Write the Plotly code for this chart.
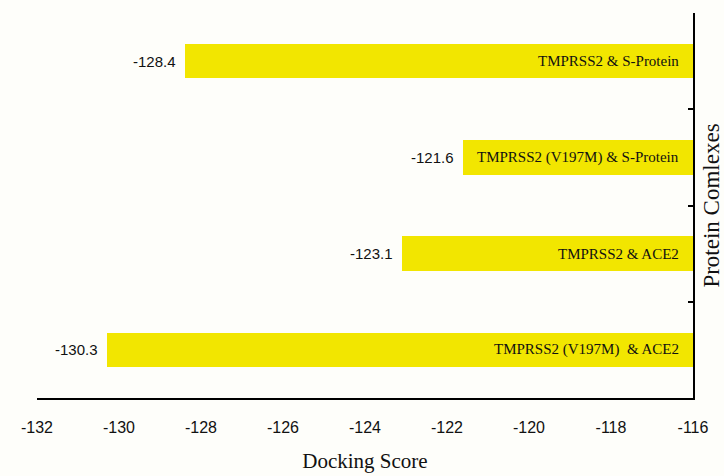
import plotly.graph_objects as go

# Docking scores for each protein complex (bottom to top)
complexes = [
    "TMPRSS2 (V197M)  & ACE2",
    "TMPRSS2 & ACE2",
    "TMPRSS2 (V197M) & S-Protein",
    "TMPRSS2 & S-Protein",
]
scores = [-130.3, -123.1, -121.6, -128.4]
x_ticks = [-132, -130, -128, -126, -124, -122, -120, -118, -116]

BAR_COLOR = "#F2E600"
BG = "#FEFEFA"
SERIF = "Liberation Serif, Times New Roman, serif"
SANS = "Liberation Sans, Arial, sans-serif"

pos = list(range(len(complexes)))

fig = go.Figure()
fig.add_trace(go.Bar(
    y=pos,
    x=scores,
    orientation="h",
    width=0.36,
    marker=dict(color=BAR_COLOR, line=dict(width=0)),
    hovertext=complexes,
    showlegend=False,
))

annotations = []
for p, name, s in zip(pos, complexes, scores):
    # complex name inside the bar, near the axis
    annotations.append(dict(
        x=-116, y=p, xref="x", yref="y", text=name, showarrow=False,
        xanchor="right", yanchor="middle", xshift=-12,
        font=dict(family=SERIF, size=15, color="#111111"),
    ))
    # score value at the tip of the bar
    annotations.append(dict(
        x=s, y=p, xref="x", yref="y", text=f"{s:.1f}", showarrow=False,
        xanchor="right", yanchor="middle", xshift=-7,
        font=dict(family=SANS, size=15, color="#111111"),
    ))

fig.update_layout(
    width=724, height=476,
    margin=dict(l=37, r=31, t=13, b=78),
    paper_bgcolor=BG, plot_bgcolor=BG,
    annotations=annotations,
    bargap=0,
    xaxis=dict(
        range=[-132, -116],
        automargin=False,
        tickvals=x_ticks,
        ticktext=[str(v) for v in x_ticks],
        tickfont=dict(family=SANS, size=16, color="#111111"),
        ticks="outside", ticklen=14, tickcolor="rgba(0,0,0,0)",
        showgrid=False, zeroline=False,
        showline=True, linecolor="#000000", linewidth=2,
        title=dict(text="Docking Score", font=dict(family=SERIF, size=21, color="#111111"), standoff=18),
    ),
    yaxis=dict(
        range=[-0.5, 3.5],
        automargin=False,
        side="right",
        tickvals=[-0.5, 0.5, 1.5, 2.5, 3.5],
        ticktext=["", "", "", "", ""],
        ticks="inside", ticklen=5, tickwidth=2, tickcolor="#000000",
        showgrid=False, zeroline=False,
        showline=True, linecolor="#000000", linewidth=2,
        title=dict(text="Protein Comlexes", font=dict(family=SERIF, size=23, color="#111111"), standoff=10),
    ),
)

fig.write_html("out.html")
